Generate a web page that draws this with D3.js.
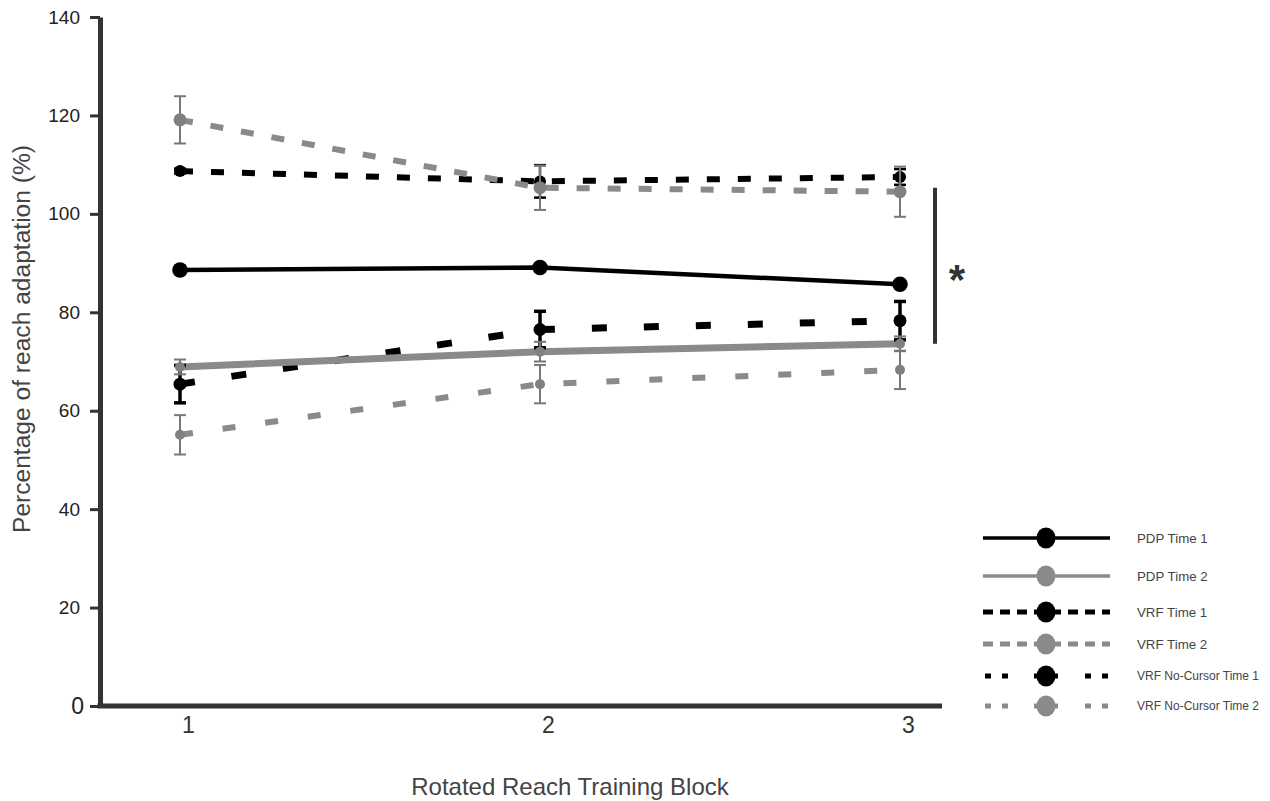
<!DOCTYPE html>
<html><head><meta charset="utf-8">
<script src="https://cdn.jsdelivr.net/npm/d3@7"></script>
<style>body{margin:0;background:#fff}svg{display:block}text{font-family:"Liberation Sans",Arial,sans-serif}</style>
</head><body>
<svg id="c" width="1270" height="801"></svg>
<script>
// ---------- data ----------
const blocks = [1, 2, 3];
const xTickLabels = ["1", "2", "3"];
const yTicks = [0, 20, 40, 60, 80, 100, 120, 140];
const seriesNames = ["PDP Time 1", "PDP Time 2", "VRF Time 1", "VRF Time 2", "VRF No-Cursor Time 1", "VRF No-Cursor Time 2"];

const pdpTime1 = [88.6, 89.1, 85.7];
const pdpTime1Err = [0.8, 0.8, 0.5];
const pdpTime2 = [68.9, 72.0, 73.6];
const pdpTime2Err = [1.5, 2.0, 1.5];
const vrfTime1 = [65.4, 76.5, 78.3];
const vrfTime1Err = [3.8, 3.7, 3.9];
const vrfTime2 = [55.1, 65.4, 68.3];
const vrfTime2Err = [4.0, 3.9, 3.9];
const ncTime1 = [108.7, 106.6, 107.5];
const ncTime1Err = [0.5, 3.3, 1.6];
const ncTime2 = [119.1, 105.3, 104.5];
const ncTime2Err = [4.8, 4.5, 5.1];

const sigRange = [104.5, 73.6]; // bracket between groups at block 3
const sigLabel = "*";

// ---------- styles ----------
const BLACK = "#000", GRAY = "#8a8a8a", GRAYERR = "#777";
const styles = {
  "PDP Time 1":            {color: BLACK, width: 4.5, dash: null,    r: 7.8, errW: 2.5, errC: BLACK,   lgDash: null,   lgW: 3.5},
  "PDP Time 2":            {color: GRAY,  width: 7,   dash: null,    r: 5,   errW: 2,   errC: GRAYERR, lgDash: null,   lgW: 3.5},
  "VRF Time 1":            {color: BLACK, width: 7,   dash: "15,37", r: 6.5, errW: 3.5, errC: BLACK,   lgDash: "10,7", lgW: 5},
  "VRF Time 2":            {color: GRAY,  width: 6,   dash: "13,30", r: 5,   errW: 2,   errC: GRAYERR, lgDash: "10,7", lgW: 5},
  "VRF No-Cursor Time 1":  {color: BLACK, width: 6,   dash: "13,18", r: 6,   errW: 2.5, errC: BLACK,   lgDash: "dots", lgW: 5},
  "VRF No-Cursor Time 2":  {color: GRAY,  width: 6,   dash: "13,18", r: 6.5, errW: 2,   errC: GRAYERR, lgDash: "dots", lgW: 5}
};
const seriesData = {
  "PDP Time 1": [pdpTime1, pdpTime1Err],
  "PDP Time 2": [pdpTime2, pdpTime2Err],
  "VRF Time 1": [vrfTime1, vrfTime1Err],
  "VRF Time 2": [vrfTime2, vrfTime2Err],
  "VRF No-Cursor Time 1": [ncTime1, ncTime1Err],
  "VRF No-Cursor Time 2": [ncTime2, ncTime2Err]
};
const drawOrder = ["VRF No-Cursor Time 1", "VRF No-Cursor Time 2", "PDP Time 1", "VRF Time 1", "PDP Time 2", "VRF Time 2"];

// ---------- layout ----------
const axisX = 100, axisRight = 942;
const svg = d3.select("#c");
const y = d3.scaleLinear().domain([0, 140]).range([706, 17]);
const x = d3.scaleLinear().domain([1, 3]).range([180, 900]);
const AX = "#333";

// lines
const line = d3.line().x(d => x(d.b)).y(d => y(d.v));
drawOrder.forEach(name => {
  const s = styles[name];
  const [vals] = seriesData[name];
  const pts = blocks.map((b, i) => ({b, v: vals[i]}));
  svg.append("path").datum(pts).attr("d", line)
    .attr("fill", "none").attr("stroke", s.color).attr("stroke-width", s.width)
    .attr("stroke-dasharray", s.dash);
});
// error bars + markers
drawOrder.forEach(name => {
  const s = styles[name];
  const [vals, errs] = seriesData[name];
  const g = svg.append("g");
  blocks.forEach((b, i) => {
    const cx = x(b), lo = y(vals[i] - errs[i]), hi = y(vals[i] + errs[i]);
    g.append("line").attr("x1", cx).attr("x2", cx).attr("y1", lo).attr("y2", hi)
      .attr("stroke", s.errC).attr("stroke-width", s.errW);
    [lo, hi].forEach(yy => g.append("line").attr("x1", cx - 6).attr("x2", cx + 6)
      .attr("y1", yy).attr("y2", yy).attr("stroke", s.errC).attr("stroke-width", s.errW));
    g.append("circle").attr("cx", cx).attr("cy", y(vals[i])).attr("r", s.r)
      .attr("fill", s.color === GRAY ? "#808080" : BLACK);
  });
});

// y axis
const yAxis = svg.append("g").attr("transform", `translate(${axisX},0)`)
  .call(d3.axisLeft(y).tickValues(yTicks).tickSize(10).tickSizeOuter(0).tickPadding(10));
yAxis.select(".domain").attr("stroke", AX).attr("stroke-width", 5);
yAxis.selectAll(".tick line").attr("stroke", AX).attr("stroke-width", 3);
yAxis.selectAll(".tick text").attr("font-size", 19).attr("fill", "#222").attr("font-family", "Liberation Sans, Arial, sans-serif")
  .filter(d => d === 0).attr("font-size", 23).attr("dx", 4);
svg.append("line").attr("x1", axisX - 2.5).attr("x2", axisRight).attr("y1", y(0)).attr("y2", y(0))
  .attr("stroke", AX).attr("stroke-width", 5);

// x axis labels
const xAxis = svg.append("g").attr("transform", `translate(0,${y(0)})`)
  .call(d3.axisBottom(x).tickValues(blocks).tickFormat((d, i) => xTickLabels[i]).tickSize(0).tickPadding(11));
xAxis.select(".domain").remove();
xAxis.selectAll(".tick text").attr("font-size", 23).attr("fill", "#333").attr("dx", 8)
  .attr("font-family", "Liberation Sans, Arial, sans-serif");

// titles
svg.append("text").attr("x", 570).attr("y", 795).attr("text-anchor", "middle")
  .attr("font-size", 24).attr("fill", "#444").text("Rotated Reach Training Block");
svg.append("text").attr("transform", "translate(30,339) rotate(-90)").attr("text-anchor", "middle")
  .attr("font-size", 23).attr("fill", "#444").attr("textLength", 388).attr("lengthAdjust", "spacingAndGlyphs")
  .text("Percentage of reach adaptation (%)");

// significance bracket
svg.append("line").attr("x1", 935).attr("x2", 935).attr("y1", y(sigRange[0]) - 4).attr("y2", y(sigRange[1]))
  .attr("stroke", AX).attr("stroke-width", 4);
svg.append("text").attr("x", 957).attr("y", 294).attr("text-anchor", "middle").attr("font-size", 42)
  .attr("font-weight", "bold").attr("fill", AX).text(sigLabel);

// legend
const lgY = [538, 576, 612, 644, 676, 706];
const lgX1 = 985, lgX2 = 1110, lgM = 1046, lgT = 1137;
seriesNames.forEach((name, i) => {
  const s = styles[name], yy = lgY[i];
  const g = svg.append("g");
  if (s.lgDash === "dots") {
    [[lgX1, 1010], [1085, lgX2]].forEach(([a, b]) => g.append("line").attr("x1", a).attr("x2", b)
      .attr("y1", yy).attr("y2", yy).attr("stroke", s.color).attr("stroke-width", s.lgW).attr("stroke-dasharray", "6,11"));
    g.append("line").attr("x1", lgM - 12).attr("x2", lgM + 12).attr("y1", yy).attr("y2", yy)
      .attr("stroke", s.color).attr("stroke-width", s.lgW);
  } else {
    g.append("line").attr("x1", lgX1 - 2).attr("x2", lgX2).attr("y1", yy).attr("y2", yy)
      .attr("stroke", s.color).attr("stroke-width", s.lgW).attr("stroke-dasharray", s.lgDash);
  }
  g.append("ellipse").attr("cx", lgM).attr("cy", yy).attr("rx", 9.5).attr("ry", 10.5)
    .attr("fill", s.color === GRAY ? "#8a8a8a" : BLACK);
  const t = g.append("text").attr("x", lgT).attr("y", yy).attr("dy", "0.35em")
    .attr("fill", "#444").text(name);
  if (name.includes("No-Cursor")) t.attr("font-size", 12).attr("textLength", 122).attr("lengthAdjust", "spacingAndGlyphs");
  else t.attr("font-size", 13.3);
});
</script>
</body></html>
